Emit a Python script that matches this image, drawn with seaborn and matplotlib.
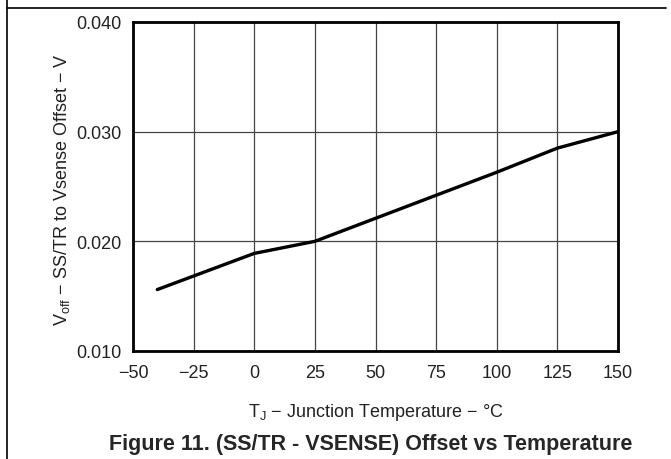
import numpy as np
import pandas as pd
import matplotlib
matplotlib.use('Agg')
import matplotlib.pyplot as plt
import seaborn as sns

# values
temp_c = [-40, 0, 25, 50, 75, 100, 125, 150]
offset_v = [0.0156, 0.0189, 0.0200, 0.0221, 0.0242, 0.0263, 0.0285, 0.0300]

x_ticks = [-50, -25, 0, 25, 50, 75, 100, 125, 150]
x_tick_labels = ['\u221250', '\u221225', '0', '25', '50', '75', '100', '125', '150']
y_ticks = [0.010, 0.020, 0.030, 0.040]
y_tick_labels = ['0.010', '0.020', '0.030', '0.040']

sns.set_style('white')
plt.rcParams['font.family'] = ['Liberation Sans', 'DejaVu Sans']
plt.rcParams['mathtext.fontset'] = 'custom'
plt.rcParams['mathtext.rm'] = 'Liberation Sans'
plt.rcParams['mathtext.it'] = 'Liberation Sans:italic'

df = pd.DataFrame({'temp': temp_c, 'offset': offset_v})

fig = plt.figure(figsize=(6.71, 4.60), dpi=100)
ax = fig.add_axes([133 / 671, 1 - 352 / 460, (618 - 133) / 671, (352 - 23) / 460])

sns.lineplot(data=df, x='temp', y='offset', ax=ax, color='black', linewidth=2.4)

ax.set_xlim(-50, 150)
ax.set_ylim(0.010, 0.040)
ax.set_xticks(x_ticks)
ax.set_xticklabels(x_tick_labels)
ax.set_yticks(y_ticks)
ax.set_yticklabels(y_tick_labels)
ax.tick_params(axis='x', labelsize=13, length=0, pad=9, colors='#222222')
ax.tick_params(axis='y', labelsize=13, length=0, pad=8, colors='#222222')
ax.grid(True, color='#444444', linewidth=0.9)
for s in ax.spines.values():
    s.set_color('black')
    s.set_linewidth(2)

ax.set_xlabel('')
ax.set_ylabel('')
fig.text(376 / 671, 1 - 413 / 460, 'T$_{\\mathrm{J}}$ \u2212 Junction Temperature \u2212 \u00b0C',
         ha='center', va='center', fontsize=13, color='#222222')
fig.text(62 / 671, 1 - 190 / 460, 'V$_{\\mathrm{off}}$ \u2212 SS/TR to Vsense Offset \u2212 V',
         ha='center', va='center', rotation=90, fontsize=13, color='#222222')
fig.text(371 / 671, 1 - 445 / 460, 'Figure 11. (SS/TR - VSENSE) Offset vs Temperature',
         ha='center', va='center', fontsize=15.5, fontweight='bold')

# outer frame lines
fig.add_artist(plt.Line2D([7 / 671, 666 / 671], [1 - 9 / 460, 1 - 9 / 460], color='black', linewidth=1.2))
fig.add_artist(plt.Line2D([7 / 671, 7 / 671], [1, 0], color='black', linewidth=1.2))

fig.savefig('out.png', dpi=100)
